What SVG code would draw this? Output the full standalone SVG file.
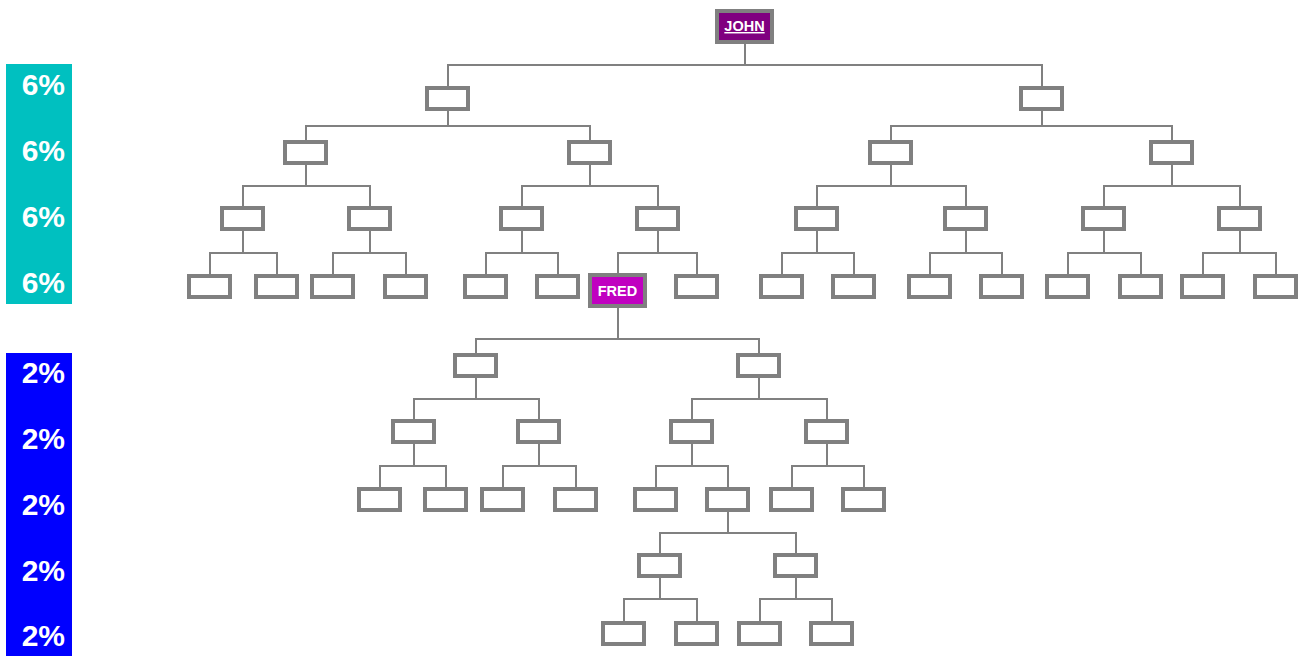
<svg xmlns="http://www.w3.org/2000/svg" width="1305" height="656" viewBox="0 0 1305 656">
<style>
.bx{fill:#fff;stroke:#808080;stroke-width:4}
.c{fill:none;stroke:#808080;stroke-width:2}
.pct{font-family:"Liberation Sans",Arial,sans-serif;font-weight:bold;font-size:30px;fill:#fff;text-anchor:end}
.nm{font-family:"Liberation Sans",Arial,sans-serif;font-weight:bold;font-size:14.5px;fill:#fff;text-anchor:middle}
</style>
<rect width="1305" height="656" fill="#fff"/>
<g id="bar-6">
<rect x="6" y="64" width="66" height="240" fill="#00C0C0"/>
<text class="pct" x="65" y="95">6%</text>
<text class="pct" x="65" y="161">6%</text>
<text class="pct" x="65" y="227">6%</text>
<text class="pct" x="65" y="293">6%</text>
</g>
<g id="bar-2">
<rect x="6" y="353" width="66" height="303" fill="#0000FF"/>
<text class="pct" x="65" y="383">2%</text>
<text class="pct" x="65" y="449">2%</text>
<text class="pct" x="65" y="515">2%</text>
<text class="pct" x="65" y="581">2%</text>
<text class="pct" x="65" y="646">2%</text>
</g>
<g id="connectors" class="c">
<path d="M745,44V65M448,86V65H1042V86"/>
<path d="M448,111V126M306,140V126H590V140"/>
<path d="M1042,111V126M891,140V126H1172V140"/>
<path d="M306,165V186M243,206V186H370V206"/>
<path d="M590,165V186M522,206V186H658V206"/>
<path d="M891,165V186M817,206V186H966V206"/>
<path d="M1172,165V186M1104,206V186H1240V206"/>
<path d="M243,231V253M210,274V253H277V274"/>
<path d="M370,231V253M333,274V253H406V274"/>
<path d="M522,231V253M486,274V253H558V274"/>
<path d="M658,231V253M618,274V253H697V274"/>
<path d="M817,231V253M782,274V253H854V274"/>
<path d="M966,231V253M930,274V253H1002V274"/>
<path d="M1104,231V253M1068,274V253H1141V274"/>
<path d="M1240,231V253M1203,274V253H1276V274"/>
<path d="M618,308V339M476,353V339H759V353"/>
<path d="M476,378V399M414,419V399H539V419"/>
<path d="M759,378V399M692,419V399H827V419"/>
<path d="M414,444V466M380,487V466H446V487"/>
<path d="M539,444V466M503,487V466H576V487"/>
<path d="M692,444V466M656,487V466H728V487"/>
<path d="M827,444V466M792,487V466H864V487"/>
<path d="M728,512V533M660,553V533H796V553"/>
<path d="M660,578V599M624,621V599H697V621"/>
<path d="M796,578V599M760,621V599H832V621"/>
</g>
<g id="john"><rect x="717" y="11" width="55" height="31" fill="#800080" stroke="#808080" stroke-width="4"/><text class="nm" x="744.5" y="31" text-decoration="underline">JOHN</text></g>
<g id="n1a"><rect class="bx" x="427" y="88" width="41" height="21"/></g>
<g id="n1b"><rect class="bx" x="1021" y="88" width="41" height="21"/></g>
<g id="n2a"><rect class="bx" x="285" y="142" width="41" height="21"/></g>
<g id="n2b"><rect class="bx" x="569" y="142" width="41" height="21"/></g>
<g id="n2c"><rect class="bx" x="870" y="142" width="41" height="21"/></g>
<g id="n2d"><rect class="bx" x="1151" y="142" width="41" height="21"/></g>
<g id="n3a"><rect class="bx" x="222" y="208" width="41" height="21"/></g>
<g id="n3b"><rect class="bx" x="349" y="208" width="41" height="21"/></g>
<g id="n3c"><rect class="bx" x="501" y="208" width="41" height="21"/></g>
<g id="n3d"><rect class="bx" x="637" y="208" width="41" height="21"/></g>
<g id="n3e"><rect class="bx" x="796" y="208" width="41" height="21"/></g>
<g id="n3f"><rect class="bx" x="945" y="208" width="41" height="21"/></g>
<g id="n3g"><rect class="bx" x="1083" y="208" width="41" height="21"/></g>
<g id="n3h"><rect class="bx" x="1219" y="208" width="41" height="21"/></g>
<g id="n4a"><rect class="bx" x="189" y="276" width="41" height="21"/></g>
<g id="n4b"><rect class="bx" x="256" y="276" width="41" height="21"/></g>
<g id="n4c"><rect class="bx" x="312" y="276" width="41" height="21"/></g>
<g id="n4d"><rect class="bx" x="385" y="276" width="41" height="21"/></g>
<g id="n4e"><rect class="bx" x="465" y="276" width="41" height="21"/></g>
<g id="n4f"><rect class="bx" x="537" y="276" width="41" height="21"/></g>
<g id="fred"><rect x="590" y="275" width="55" height="31" fill="#C000C0" stroke="#808080" stroke-width="4"/><text class="nm" x="617.5" y="296">FRED</text></g>
<g id="n4h"><rect class="bx" x="676" y="276" width="41" height="21"/></g>
<g id="n4i"><rect class="bx" x="761" y="276" width="41" height="21"/></g>
<g id="n4j"><rect class="bx" x="833" y="276" width="41" height="21"/></g>
<g id="n4k"><rect class="bx" x="909" y="276" width="41" height="21"/></g>
<g id="n4l"><rect class="bx" x="981" y="276" width="41" height="21"/></g>
<g id="n4m"><rect class="bx" x="1047" y="276" width="41" height="21"/></g>
<g id="n4n"><rect class="bx" x="1120" y="276" width="41" height="21"/></g>
<g id="n4o"><rect class="bx" x="1182" y="276" width="41" height="21"/></g>
<g id="n4p"><rect class="bx" x="1255" y="276" width="41" height="21"/></g>
<g id="n5a"><rect class="bx" x="455" y="355" width="41" height="21"/></g>
<g id="n5b"><rect class="bx" x="738" y="355" width="41" height="21"/></g>
<g id="n6a"><rect class="bx" x="393" y="421" width="41" height="21"/></g>
<g id="n6b"><rect class="bx" x="518" y="421" width="41" height="21"/></g>
<g id="n6c"><rect class="bx" x="671" y="421" width="41" height="21"/></g>
<g id="n6d"><rect class="bx" x="806" y="421" width="41" height="21"/></g>
<g id="n7a"><rect class="bx" x="359" y="489" width="41" height="21"/></g>
<g id="n7b"><rect class="bx" x="425" y="489" width="41" height="21"/></g>
<g id="n7c"><rect class="bx" x="482" y="489" width="41" height="21"/></g>
<g id="n7d"><rect class="bx" x="555" y="489" width="41" height="21"/></g>
<g id="n7e"><rect class="bx" x="635" y="489" width="41" height="21"/></g>
<g id="n7f"><rect class="bx" x="707" y="489" width="41" height="21"/></g>
<g id="n7g"><rect class="bx" x="771" y="489" width="41" height="21"/></g>
<g id="n7h"><rect class="bx" x="843" y="489" width="41" height="21"/></g>
<g id="n8a"><rect class="bx" x="639" y="555" width="41" height="21"/></g>
<g id="n8b"><rect class="bx" x="775" y="555" width="41" height="21"/></g>
<g id="n9a"><rect class="bx" x="603" y="623" width="41" height="21"/></g>
<g id="n9b"><rect class="bx" x="676" y="623" width="41" height="21"/></g>
<g id="n9c"><rect class="bx" x="739" y="623" width="41" height="21"/></g>
<g id="n9d"><rect class="bx" x="811" y="623" width="41" height="21"/></g>
</svg>
